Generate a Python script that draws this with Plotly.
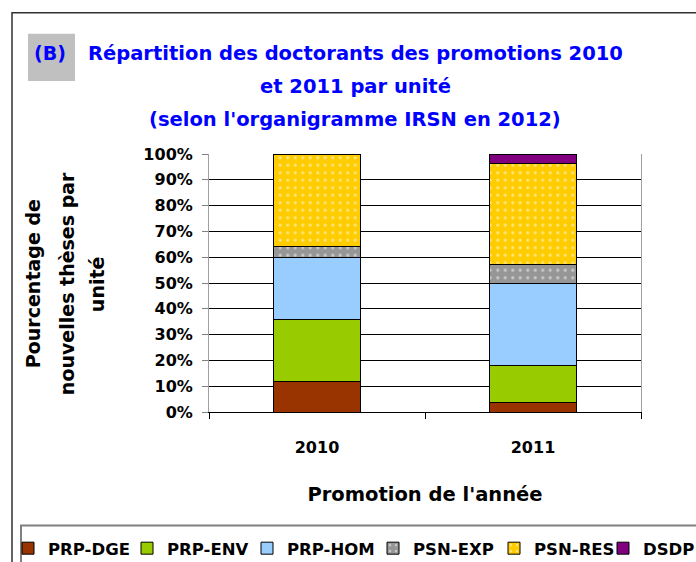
import plotly.graph_objects as go

# ---- data ----
years = ["2010", "2011"]
units = ["PRP-DGE", "PRP-ENV", "PRP-HOM", "PSN-EXP", "PSN-RES", "DSDP"]
pct_2010 = [12.0, 24.0, 24.0, 4.0, 36.0, 0.0]
pct_2011 = [3.6, 14.3, 32.1, 7.1, 39.3, 3.6]
y_ticks = [0, 10, 20, 30, 40, 50, 60, 70, 80, 90, 100]
y_tick_labels = ["0%", "10%", "20%", "30%", "40%", "50%", "60%", "70%", "80%", "90%", "100%"]

colors = ["#993300", "#99CC00", "#99CCFF", "#969696", "#FFCC00", "#800080"]
dotted = [False, False, False, True, True, False]

FONT = "DejaVu Sans"
W, H = 696, 562
L, R, T = 209, 641, 154
B = 411.7
ML, MR, MT, MB = L, W - R, T, H - B


def px(x):
    return (x - L) / (R - L)


def py(y):
    return (B - y) / (B - T)


# left edge (pixels) of each legend entry
legend_left = [8, 127, 247, 373, 494, 603]

fig = go.Figure()
for i, u in enumerate(units):
    marker = dict(color=colors[i], line=dict(color="black", width=1))
    if dotted[i]:
        marker["pattern"] = dict(shape=".", fgcolor="white", size=7.5,
                                 solidity=0.14, fillmode="overlay")
    lg = "legend" if i == 0 else "legend%d" % (i + 1)
    fig.add_trace(go.Bar(x=years, y=[pct_2010[i], pct_2011[i]], name=u,
                         marker=marker, width=0.4, legend=lg))

legend_layouts = {}
for i in range(len(units)):
    key = "legend" if i == 0 else "legend%d" % (i + 1)
    legend_layouts[key] = dict(
        orientation="h", x=px(legend_left[i]), xanchor="left", y=py(548),
        yanchor="middle", font=dict(family=FONT, size=16.5, weight="bold"),
        bgcolor="rgba(0,0,0,0)", borderwidth=0)

fig.update_layout(
    width=W, height=H,
    barmode="stack",
    margin=dict(l=ML, r=MR, t=MT, b=MB, autoexpand=False),
    paper_bgcolor="white", plot_bgcolor="white",
    font=dict(family=FONT, color="black"),
    showlegend=True,
    xaxis=dict(type="category", tickson="boundaries", ticks="outside", ticklen=6,
               tickcolor="black", showline=True, linecolor="black", linewidth=1,
               tickfont=dict(family=FONT, size=16, weight="bold"),
               ticklabelstandoff=21,
               title=dict(text="Promotion de l'année", standoff=31,
                          font=dict(family=FONT, size=19.5, weight="bold"))),
    yaxis=dict(range=[0, 100], tickvals=y_ticks, ticktext=y_tick_labels,
               ticks="outside", ticklen=6, tickcolor="#808080", showline=True,
               mirror=True, linecolor="#A0A0A0", linewidth=1, showgrid=True,
               gridcolor="black", gridwidth=1, zeroline=False,
               tickfont=dict(family=FONT, size=16, weight="bold"),
               ticklabelstandoff=6),
    **legend_layouts,
)

# outer frame, legend frame, (B) box
fig.add_shape(type="rect", xref="paper", yref="paper", x0=px(12), y0=py(575),
              x1=px(710), y1=py(13), line=dict(color="#333333", width=1.5),
              layer="below")
fig.add_shape(type="rect", xref="paper", yref="paper", x0=px(21), y0=py(575),
              x1=px(710), y1=py(525), line=dict(color="#808080", width=2),
              layer="below")
fig.add_shape(type="rect", xref="paper", yref="paper", x0=px(28), y0=py(81),
              x1=px(75), y1=py(34), fillcolor="#C0C0C0", line=dict(width=0),
              layer="below")

blue = "#0000FF"
fig.add_annotation(text="(B)", xref="paper", yref="paper", x=px(50), y=py(53),
                   showarrow=False, xanchor="center", yanchor="middle",
                   font=dict(family=FONT, size=19, color=blue, weight="bold"))
title_lines = ["Répartition des doctorants des promotions 2010",
               "et 2011 par unité",
               "(selon l'organigramme IRSN en 2012)"]
for line, yy in zip(title_lines, [54, 87, 120]):
    fig.add_annotation(text=line, xref="paper", yref="paper", x=px(355), y=py(yy),
                       showarrow=False, xanchor="center", yanchor="middle",
                       font=dict(family=FONT, size=19.5, color=blue, weight="bold"))

ytitle = ["Pourcentage de", "nouvelles thèses par", "unité"]
for line, xx in zip(ytitle, [33, 67, 97]):
    fig.add_annotation(text=line, xref="paper", yref="paper", x=px(xx), y=py(284),
                       showarrow=False, xanchor="center", yanchor="middle",
                       textangle=-90,
                       font=dict(family=FONT, size=19, color="black", weight="bold"))

fig.write_html("out.html", config={"displayModeBar": False},
               post_script="document.body.style.margin='0';")
